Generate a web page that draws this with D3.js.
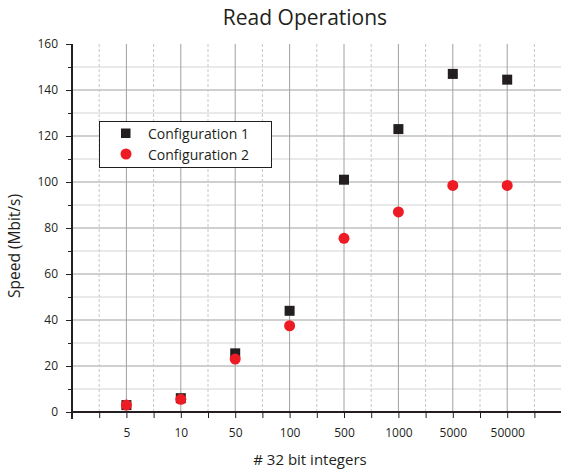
<!DOCTYPE html>
<html>
<head>
<meta charset="utf-8">
<script src="https://cdn.jsdelivr.net/npm/d3@7"></script>
<style>
  body { margin: 0; background: #fff; }
  text { font-family: "Open Sans", "Noto Sans", sans-serif; fill: #231f20; }
</style>
</head>
<body>
<svg width="561" height="473"></svg>
<script>
var categories = ["5", "10", "50", "100", "500", "1000", "5000", "50000"];
var config1 = [3, 6, 25.5, 44, 101, 123, 147, 144.5];
var config2 = [3, 5.5, 23, 37.5, 75.5, 87, 98.5, 98.5];
var yMajor = [0, 20, 40, 60, 80, 100, 120, 140, 160];
var yMinor = [10, 30, 50, 70, 90, 110, 130, 150];

var svg = d3.select("svg");
var plotLeft = 72, plotTop = 44, plotBottom = 412, plotRight = 561.6;

var x = d3.scaleLinear().domain([0, categories.length + 1]).range([plotLeft, plotRight]);
var y = d3.scaleLinear().domain([0, 160]).range([plotBottom, plotTop]);

var majorX = d3.range(1, categories.length + 2);
var minorX = d3.range(0.5, categories.length + 1.5, 1);

// grid
var grid = svg.append("g");
grid.selectAll("line.hmin").data(yMinor).enter().append("line")
  .attr("x1", plotLeft).attr("x2", 561)
  .attr("y1", d => y(d)).attr("y2", d => y(d))
  .attr("stroke", "#d4d4d4").attr("stroke-width", 1);
grid.selectAll("line.hmaj").data(yMajor.slice(1, -1)).enter().append("line")
  .attr("x1", plotLeft).attr("x2", 561)
  .attr("y1", d => y(d)).attr("y2", d => y(d))
  .attr("stroke", "#a0a0a0").attr("stroke-width", 1);
grid.selectAll("line.vmin").data(minorX).enter().append("line")
  .attr("x1", d => x(d)).attr("x2", d => x(d))
  .attr("y1", plotTop).attr("y2", plotBottom)
  .attr("stroke", "#c8c8c8").attr("stroke-dasharray", "3,2");
grid.selectAll("line.vmaj").data(majorX).enter().append("line")
  .attr("x1", d => x(d)).attr("x2", d => x(d))
  .attr("y1", plotTop).attr("y2", plotBottom)
  .attr("stroke", "#a0a0a0").attr("stroke-width", 1);

// y axis
var yAxis = svg.append("g").attr("transform", `translate(${plotLeft},0)`)
  .call(d3.axisLeft(y).tickValues(yMajor).tickSize(6).tickPadding(8));
svg.append("g").attr("transform", `translate(${plotLeft},0)`)
  .call(d3.axisLeft(y).tickValues(yMinor).tickSize(4).tickFormat(""))
  .select(".domain").remove();
yAxis.select(".domain").attr("d", `M0,${plotTop}V${plotBottom + 7}`).attr("stroke-width", 2);

// x axis
var xAxis = svg.append("g").attr("transform", `translate(0,${plotBottom})`)
  .call(d3.axisBottom(x).tickValues(d3.range(0, categories.length + 2)).tickSize(6).tickPadding(10)
    .tickFormat(d => categories[d - 1] || ""));
svg.append("g").attr("transform", `translate(0,${plotBottom})`)
  .call(d3.axisBottom(x).tickValues(minorX).tickSize(6).tickFormat(""))
  .select(".domain").remove();
xAxis.select(".domain").attr("d", `M${plotLeft},0H561`).attr("stroke-width", 2);

svg.selectAll(".tick line").attr("stroke", "#231f20");
svg.selectAll(".tick text").style("font-size", "12px").style("font-family", "'Open Sans', sans-serif").attr("fill", "#231f20");
svg.selectAll(".domain").attr("stroke", "#231f20");

// points
svg.append("g").selectAll("rect").data(config1).enter().append("rect")
  .attr("x", (d, i) => x(i + 1) - 5).attr("y", d => y(d) - 5)
  .attr("width", 10).attr("height", 10).attr("fill", "#231f20");
svg.append("g").selectAll("circle").data(config2).enter().append("circle")
  .attr("cx", (d, i) => x(i + 1)).attr("cy", d => y(d))
  .attr("r", 5.5).attr("fill", "#ed1c24");

// legend
var lg = svg.append("g");
lg.append("rect").attr("x", 99.5).attr("y", 121.5).attr("width", 172).attr("height", 46)
  .attr("fill", "#fff").attr("stroke", "#231f20").attr("stroke-width", 1);
lg.append("rect").attr("x", 121).attr("y", 128.5).attr("width", 9.5).attr("height", 9.5).attr("fill", "#231f20");
lg.append("circle").attr("cx", 126).attr("cy", 154).attr("r", 5.5).attr("fill", "#ed1c24");
lg.append("text").attr("x", 148).attr("y", 138.5).style("font-size", "14px").text("Configuration 1");
lg.append("text").attr("x", 148).attr("y", 159.5).style("font-size", "14px").text("Configuration 2");

// titles
svg.append("text").attr("x", 305).attr("y", 25).attr("text-anchor", "middle")
  .style("font-size", "21px").text("Read Operations");
svg.append("text").attr("x", 310).attr("y", 465).attr("text-anchor", "middle")
  .style("font-size", "15px").text("# 32 bit integers");
svg.append("text").attr("transform", "translate(20,246) rotate(-90)").attr("text-anchor", "middle")
  .style("font-size", "15.5px").text("Speed (Mbit/s)");
</script>
</body>
</html>
